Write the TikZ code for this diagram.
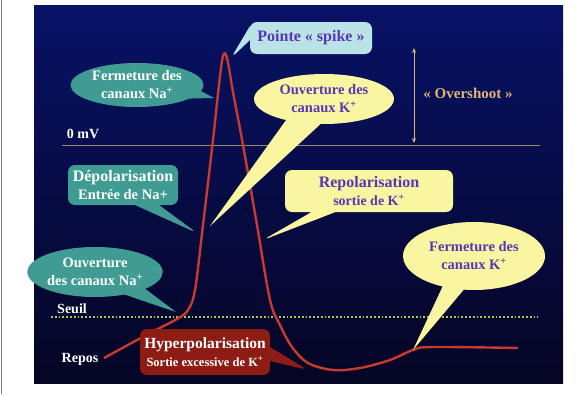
\documentclass[tikz,border=0pt]{standalone}
\usepackage{fontspec}
\setmainfont{Liberation Serif}
\usetikzlibrary{shapes.callouts,arrows.meta}

\definecolor{slidetop}{RGB}{8,18,102}
\definecolor{slidemid}{RGB}{6,13,74}
\definecolor{slidebot}{RGB}{5,5,36}
\definecolor{tealfill}{RGB}{64,156,146}
\definecolor{yellowfill}{RGB}{250,245,160}
\definecolor{cyanfill}{RGB}{185,227,230}
\definecolor{hyperfill}{RGB}{140,28,20}
\definecolor{curvered}{RGB}{200,58,46}
\definecolor{labelpurple}{RGB}{90,53,181}
\definecolor{zeroline}{RGB}{150,138,110}
\definecolor{seuilgreen}{RGB}{168,208,64}
\definecolor{overtan}{RGB}{225,180,115}

\tikzset{
  bubble/.style={align=center,inner sep=0pt,font=\bfseries\fontsize{14.5}{18}\selectfont},
  tealbubble/.style={bubble,ellipse callout,fill=tealfill,text=white,callout pointer arc=22},
  yellowbubble/.style={bubble,ellipse callout,fill=yellowfill,text=labelpurple,callout pointer arc=22},
  yellowbox/.style={bubble,rectangle callout,rounded corners=7pt,fill=yellowfill,text=labelpurple,callout pointer width=24pt},
  tealbox/.style={bubble,rectangle callout,rounded corners=7pt,fill=tealfill,text=white,callout pointer width=24pt},
  axislabel/.style={inner sep=0pt,text=white,font=\bfseries\fontsize{14}{16}\selectfont},
  apcurve/.style={draw=curvered,line width=2.4pt},
}

\begin{document}
\begin{tikzpicture}[x=1pt,y=-1pt]
\path[use as bounding box,fill=white] (0,0) rectangle (584,394);
\draw[gray,line width=1pt] (1.5,0) -- (1.5,394);
\shade[top color=slidetop,middle color=slidemid,bottom color=slidebot] (34,5) rectangle (563,383);

% niveaux
\draw[zeroline,line width=0.6pt] (62,145) -- (540,145);
\draw[seuilgreen,line width=1.8pt,dotted] (51,317) -- (538,317);
\node[axislabel] (zero) at (83,134) {0 mV};
\node[axislabel] (seuil) at (72,309) {Seuil};
\node[axislabel] (repos) at (80,359) {Repos};

% potentiel d'action
\draw[apcurve] plot[smooth,tension=0.55] coordinates {
  (104,358) (150,333) (177,319) (188,310) (195,290) (203,225) (213,140)
  (219,85) (223,56) (227,58) (233,92) (243,145) (257,225) (270,300)
  (280,325) (292,347) (308,363) (333,370) (360,368) (390,360) (413,350)
  (432,347) (518,348)};

% pointes des bulles
\coordinate (tipSpike) at (231,58);
\coordinate (tipFermNa) at (214,98);
\coordinate (tipOuvK) at (210,226);
\coordinate (tipDepol) at (197,233);
\coordinate (tipRepol) at (263,240);
\coordinate (tipOuvNa) at (176,312);
\coordinate (tipFermK) at (413,350);
\coordinate (tipHyper) at (308,370);

\node[bubble,rectangle callout,rounded corners=7pt,fill=cyanfill,text=labelpurple,
  font=\bfseries\fontsize{16}{19}\selectfont,minimum width=122pt,minimum height=32pt,
  callout pointer width=14pt,callout absolute pointer={(tipSpike)}] (spike) at (311,38) {Pointe « spike »};
\node[tealbubble,minimum width=133pt,minimum height=44pt,
  callout absolute pointer={(tipFermNa)}] (fermNa) at (137,85) {Fermeture des\\canaux Na\textsuperscript{+}};
\node[yellowbubble,minimum width=140pt,minimum height=50pt,callout pointer arc=30,
  callout absolute pointer={(tipOuvK)}] (ouvK) at (324,99) {Ouverture des\\canaux K\textsuperscript{+}};
\node[tealbox,minimum width=110pt,minimum height=40pt,
  callout absolute pointer={(tipDepol)}] (depol) at (123,185)
  {{\fontsize{16}{19}\selectfont Dépolarisation}\\Entrée de Na+};
\node[yellowbox,minimum width=168pt,minimum height=42pt,
  callout absolute pointer={(tipRepol)}] (repol) at (369,191)
  {{\fontsize{16}{19}\selectfont Repolarisation}\\{\fontsize{14}{17}\selectfont sortie de K\textsuperscript{+}}};
\node[tealbubble,minimum width=122pt,minimum height=50pt,
  callout absolute pointer={(tipOuvNa)}] (ouvNa) at (95,272) {Ouverture\\des canaux Na\textsuperscript{+}};
\node[yellowbubble,minimum width=142pt,minimum height=68pt,callout pointer arc=18,
  callout absolute pointer={(tipFermK)}] (fermK) at (474,256) {Fermeture des\\canaux K\textsuperscript{+}};
\node[bubble,rectangle callout,rounded corners=7pt,fill=hyperfill,text=white,
  minimum width=130pt,minimum height=46pt,callout pointer width=14pt,
  callout absolute pointer={(tipHyper)}] (hyper) at (205,352)
  {{\fontsize{15.5}{16}\selectfont Hyperpolarisation}\\{\fontsize{12.5}{15}\selectfont Sortie excessive de K\textsuperscript{+}}};

% overshoot
\coordinate (ovTop) at (414,48);
\coordinate (ovBot) at (414,143);
\draw[overtan,line width=0.9pt,{Stealth[length=5pt,width=4pt]}-{Stealth[length=5pt,width=4pt]}] (ovTop) -- (ovBot);
\node[inner sep=0pt,text=overtan,font=\bfseries\fontsize{15}{18}\selectfont] (over) at (468,93) {« Overshoot »};
\end{tikzpicture}
\end{document}
